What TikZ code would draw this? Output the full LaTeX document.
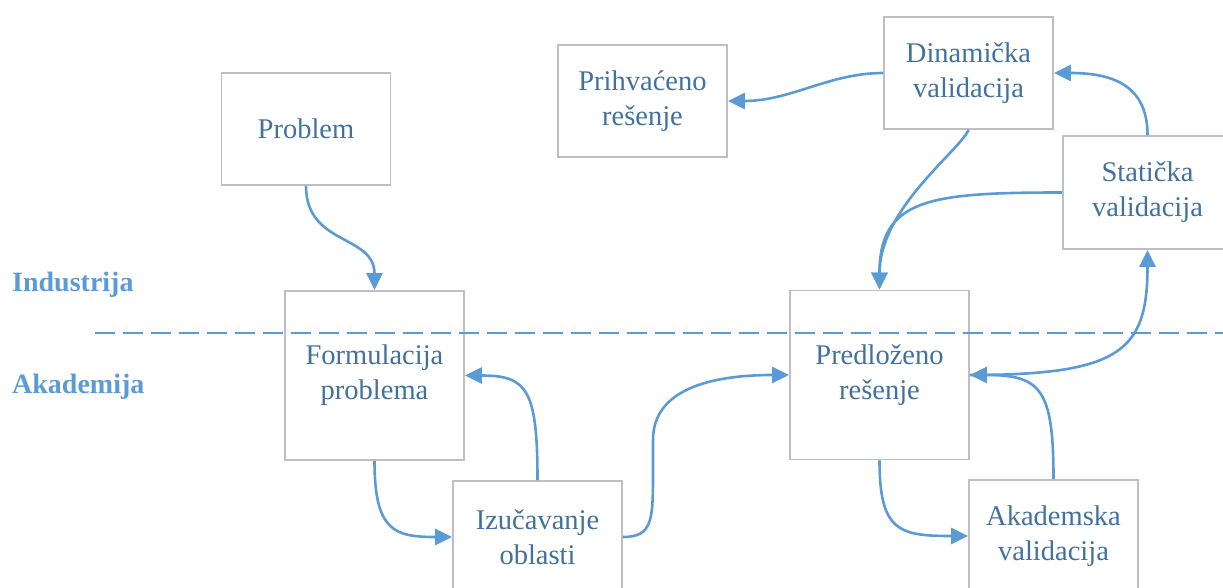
\documentclass[tikz,border=0pt]{standalone}
\usepackage{fontspec}
\setmainfont{Liberation Serif}
\usetikzlibrary{arrows.meta}
\definecolor{boxtext}{HTML}{41719C}
\definecolor{flow}{HTML}{5B9BD5}
\definecolor{frame}{HTML}{BFBFBF}
\tikzset{
  stage/.style={draw=frame, line width=1.8pt, text=boxtext, align=center,
    font=\fontsize{28.5}{35}\selectfont, inner sep=0pt},
  small/.style={stage, minimum width=169pt, minimum height=112pt},
  big/.style={stage, minimum width=179pt, minimum height=169pt},
  link/.style={draw=flow, line width=2.6pt, -{Triangle[length=17pt,width=16pt]}},
  realm/.style={text=flow, font=\fontsize{28}{32}\selectfont\bfseries, anchor=base west, inner sep=0pt},
  divider/.style={draw=flow, line width=2.4pt, dash pattern=on 20pt off 8pt}
}
\begin{document}
\begin{tikzpicture}[x=1pt, y=1pt]
\useasboundingbox (0,0) rectangle (1223,-588);
\clip (0,0) rectangle (1223,-588);

% stages
\node[small] (prob)   at (306,-129)    {Problem};
\node[small] (accept) at (642.5,-101)  {Prihvaćeno\\rešenje};
\node[small] (dyn)    at (968.5,-73)   {Dinamička\\validacija};
\node[small, minimum height=113pt] (stat) at (1147.5,-192.5) {Statička\\validacija};
\node[big]   (form)   at (374.5,-375.5) {Formulacija\\problema};
\node[small] (study)  at (537.5,-537)  {Izučavanje\\oblasti};
\node[big]   (prop)   at (879.5,-375)  {Predloženo\\rešenje};
\node[small] (acad)   at (1053.5,-536) {Akademska\\validacija};

% boundary between industry and academia
\coordinate (dl) at (95,-333);
\coordinate (dr) at (1223,-333);
\draw[divider] (dl) -- (dr);
\node[realm] (ind) at (12,-291) {Industrija};
\node[realm] (aka) at (12,-393) {Akademija};

% flow
\draw[link] (prob.south) .. controls +(0,-60) and +(0,56) .. (form.north);
\draw[link] (form.south) .. controls +(0,-70) and +(-58,0) .. (study.west);
\draw[link] (study.north) .. controls +(0,91) and +(62,0) .. (form.east);
\coordinate (rise1) at (653,-470);
\coordinate (rise2) at (653,-440);
\draw[link] (study.east) .. controls +(30,0) and +(0,-50) .. (rise1) -- (rise2)
  .. controls +(0,50) and +(-80,0) .. (prop.west);
\draw[link] (prop.south) .. controls +(0,-71) and +(-69,0) .. (acad.west);
\draw[link] (acad.north) .. controls +(0,90) and +(71,0) .. (prop.east);
\draw[link] (prop.east) .. controls +(151,0) and +(0,-101) .. (stat.south);
\draw[link] (stat.north) .. controls +(0,51) and +(57,0) .. (dyn.east);
\draw[link] (stat.west) .. controls +(-133,0) and +(0,91) .. (prop.north);
\draw[link] (dyn.south) .. controls +(-9,-21) and +(0,81) .. (prop.north);
\draw[link] (dyn.west) .. controls +(-54,0) and +(63,0) .. (accept.east);
\end{tikzpicture}
\end{document}
